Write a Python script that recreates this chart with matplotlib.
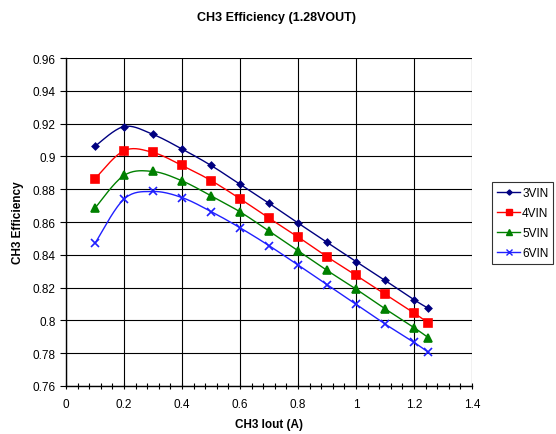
import numpy as np
import matplotlib
matplotlib.use("Agg")
import matplotlib.pyplot as plt
from matplotlib.ticker import MultipleLocator

plt.rcParams["font.family"] = ["Liberation Sans", "DejaVu Sans"]

iout = [0.1, 0.2, 0.3, 0.4, 0.5, 0.6, 0.7, 0.8, 0.9, 1.0, 1.1, 1.2, 1.25]
eff_3vin = [0.9062, 0.9182, 0.9134, 0.9045, 0.8945, 0.8830, 0.8714, 0.8594, 0.8476, 0.8359, 0.8244, 0.8126, 0.8073]
eff_4vin = [0.8864, 0.9035, 0.9024, 0.8945, 0.8853, 0.8742, 0.8624, 0.8509, 0.8388, 0.8275, 0.8159, 0.8045, 0.7984]
eff_5vin = [0.8685, 0.8884, 0.8908, 0.8851, 0.8760, 0.8662, 0.8545, 0.8425, 0.8305, 0.8191, 0.8071, 0.7956, 0.7894]
eff_6vin = [0.8470, 0.8740, 0.8786, 0.8749, 0.8664, 0.8565, 0.8456, 0.8338, 0.8218, 0.8098, 0.7978, 0.7866, 0.7805]

labels = ["3VIN", "4VIN", "5VIN", "6VIN"]
colors = ["#000080", "#ff0000", "#008000", "#2020ff"]
markers = ["D", "s", "^", "x"]
msizes = [3.3, 5.2, 5.2, 5.2]


def smooth(x, y, n=20):
    # catmull-rom style smoothing like the spreadsheet "smoothed line"
    x = np.asarray(x, float)
    y = np.asarray(y, float)
    px = np.concatenate([[x[0]], x, [x[-1]]])
    py = np.concatenate([[y[0]], y, [y[-1]]])
    xs, ys = [], []
    t = np.linspace(0, 1, n)
    for i in range(1, len(px) - 2):
        p0, p1, p2, p3 = [np.array([px[j], py[j]]) for j in (i - 1, i, i + 1, i + 2)]
        c1 = p1 + (p2 - p0) / 6
        c2 = p2 - (p3 - p1) / 6
        pts = ((1 - t) ** 3)[:, None] * p1 + (3 * (1 - t) ** 2 * t)[:, None] * c1 \
            + (3 * (1 - t) * t ** 2)[:, None] * c2 + (t ** 3)[:, None] * p2
        xs.extend(pts[:, 0])
        ys.extend(pts[:, 1])
    return xs, ys


def main():
    fig = plt.figure(figsize=(5.56, 4.35), dpi=100)
    ax = fig.add_axes([66 / 556, 48 / 435, 406 / 556, 328 / 435])

    series = [eff_3vin, eff_4vin, eff_5vin, eff_6vin]
    handles = []
    for vals, lab, c, m, ms in zip(series, labels, colors, markers, msizes):
        sx, sy = smooth(iout, vals)
        ax.plot(sx, sy, color=c, lw=1.0, zorder=3)
        ax.plot(iout, vals, ls="none", marker=m, color=c, ms=ms, mew=1.2, zorder=4)
        h, = ax.plot([], [], color=c, lw=1.0, marker=m, ms=ms * 0.8, mew=1.0, label=lab)
        handles.append(h)

    ax.set_xlim(0, 1.4)
    ax.set_ylim(0.76, 0.96)
    ax.xaxis.set_minor_locator(MultipleLocator(0.04))
    ax.set_xticks(np.arange(0, 1.41, 0.2))
    ax.set_xticklabels(["0", "0.2", "0.4", "0.6", "0.8", "1", "1.2", "1.4"])
    ax.set_yticks(np.arange(0.76, 0.961, 0.02))
    ax.set_yticklabels(["0.76", "0.78", "0.8", "0.82", "0.84", "0.86", "0.88",
                        "0.9", "0.92", "0.94", "0.96"])
    ax.grid(True, which="major", color="black", lw=0.8)
    ax.tick_params(axis="x", which="both", direction="inout", length=5, width=0.8, labelsize=8.5, pad=6)
    ax.tick_params(axis="y", which="major", direction="out", length=4, width=0.8, labelsize=8.5)
    for side in ["top", "right"]:
        ax.spines[side].set_visible(False)
    for side in ["left", "bottom"]:
        ax.spines[side].set_linewidth(1.0)

    ax.set_xlabel("CH3 Iout (A)", fontsize=8.5, fontweight="bold", labelpad=6)
    ax.set_ylabel("CH3 Efficiency", fontsize=8.5, fontweight="bold", labelpad=6)
    fig.text(0.497, 0.958, "CH3 Efficiency (1.28VOUT)", ha="center", va="center",
             fontsize=9, fontweight="bold")

    leg = fig.legend(handles=handles, loc="upper left", bbox_to_anchor=(492 / 556, 1 - 183 / 435),
                     fontsize=8.5, frameon=True, fancybox=False, edgecolor="black",
                     handlelength=2.0, borderpad=0.4, labelspacing=0.68, handletextpad=0.15,
                     borderaxespad=0.0)
    leg.get_frame().set_linewidth(0.8)

    fig.savefig("out.png", dpi=100)


if __name__ == "__main__":
    main()
